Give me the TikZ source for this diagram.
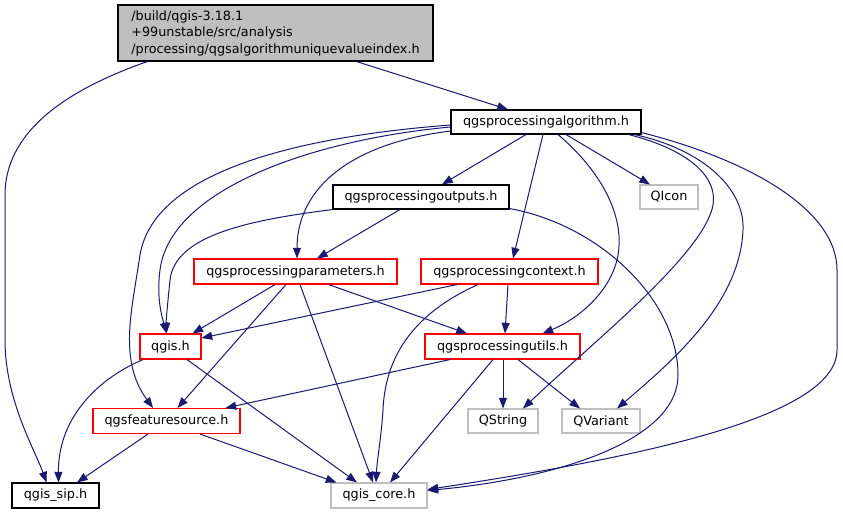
\documentclass[tikz,border=0pt]{standalone}
\usepackage{fontspec}
\setmainfont{DejaVu Sans}
\usetikzlibrary{arrows.meta,calc}
\definecolor{edgec}{HTML}{191970}
\definecolor{grayc}{HTML}{BFBFBF}
\definecolor{redc}{HTML}{FF0000}
\begin{document}
\begin{tikzpicture}[x=0.75pt,y=-0.75pt,
  box/.style={draw, line width=0.8pt, inner sep=0pt, minimum height=18.75pt,
    font=\fontsize{9.6}{12.4}\selectfont},
  bw/.style={minimum width=#1*0.75pt},
  blackbox/.style={box, draw=black},
  redbox/.style={box, draw=redc},
  graybox/.style={box, draw=grayc},
  e/.style={draw=edgec, line width=0.75pt, -{Triangle[length=8pt,width=6pt]}, fill=none},
]
\useasboundingbox (0,0) rectangle (843,515);

\node[box, draw=black, fill=grayc, bw=315, minimum height=42pt, align=left] (top) at (275.5,33)
  {/build/qgis-3.18.1\\+99unstable/src/analysis\\/processing/qgsalgorithmuniquevalueindex.h};
\node[blackbox, bw=190, minimum height=18pt] (alg) at (546,122) {qgsprocessingalgorithm.h};
\node[blackbox, bw=176, minimum height=18pt] (out) at (421,197) {qgsprocessingoutputs.h};
\node[graybox, bw=58, minimum height=18pt] (qicon) at (669,197) {QIcon};
\node[redbox, bw=203] (par) at (295.5,271.5) {qgsprocessingparameters.h};
\node[redbox, bw=177] (ctx) at (509.5,271.5) {qgsprocessingcontext.h};
\node[redbox, bw=61] (qgis) at (170.5,346.5) {qgis.h};
\node[redbox, bw=155] (utl) at (502.5,346.5) {qgsprocessingutils.h};
\node[graybox, bw=70, minimum height=18pt] (qstr) at (503,421) {QString};
\node[graybox, bw=78, minimum height=18pt] (qvar) at (601,421) {QVariant};
\node[redbox, bw=147] (feat) at (166.5,421) {qgsfeaturesource.h};
\node[blackbox, bw=87] (sip) at (55.5,495.5) {qgis\_sip.h};
\node[graybox, bw=96] (core) at (379,495.5) {qgis\_core.h};

% top
\draw[e] ($(top.south)+(-128,0)$) .. controls (60,92) and (5,135) .. (5,195) -- (5,340)
  .. controls (5,400) and (35,450) .. ($(sip.north)+(-9,0)$);
\draw[e] ($(top.south)+(81,0)$) -- ($(alg.north)+(-38,0)$);
% algorithm
\draw[e] ($(alg.south)+(-20,0)$) -- ($(out.north)+(21,0)$);
\draw[e] ($(alg.south)+(20,0)$) -- ($(qicon.north)+(-19,0)$);
\draw[e] ($(alg.south)+(-3,0)$) -- ($(ctx.north)+(3.5,0)$);
\draw[e] ($(alg.south)+(12,0)$) .. controls (600,170) and (625,215) .. (618,255)
  .. controls (612,290) and (580,318) .. ($(utl.north)+(40,0)$);
\draw[e] ($(alg.south east)+(-13,0)$) .. controls (690,150) and (725,180) .. (710,215)
  .. controls (690,265) and (590,345) .. ($(qstr.north)+(20,0)$);
\draw[e] ($(alg.south east)+(-7,0)$) .. controls (705,150) and (745,190) .. (743,230)
  .. controls (740,300) and (680,355) .. ($(qvar.north)+(16,0)$);
\draw[e] ($(alg.south east)+(0,-2)$) .. controls (750,160) and (837,210) .. (837,270) -- (837,350)
  .. controls (837,420) and (620,460) .. ($(core.east)+(0,-6)$);
\draw[e] ($(alg.west)+(0,9)$) .. controls (340,145) and (297,195) .. ($(par.north)+(1.5,0)$);
\draw[e] ($(alg.west)+(0,5)$) .. controls (310,140) and (170,190) .. (160,270)
  .. controls (156,300) and (163,320) .. ($(qgis.north)+(-4,0)$);
\draw[e] ($(alg.west)+(0,3)$) .. controls (320,135) and (155,165) .. (140,255)
  .. controls (132,310) and (118,360) .. ($(feat.north)+(-13.5,0)$);
% outputs
\draw[e] ($(out.south)+(-21,0)$) -- ($(par.north)+(21.5,0)$);
\draw[e] (out.south west) .. controls (250,220) and (175,235) .. (170,280)
  .. controls (168,300) and (166,320) .. ($(qgis.north)+(-4,0)$);
\draw[e] ($(out.south east)+(0,-1)$) .. controls (600,225) and (678,300) .. (678,375)
  .. controls (678,440) and (560,478) .. ($(core.east)+(0,-5)$);
% parameters
\draw[e] ($(par.south)+(-20.5,0)$) -- ($(qgis.north east)+(-9,0)$);
\draw[e] ($(par.south)+(-9.5,0)$) -- ($(feat.north)+(11,0)$);
\draw[e] ($(par.south)+(4.5,0)$) -- ($(core.north)+(-6,0)$);
\draw[e] ($(par.south)+(33,0)$) -- ($(utl.north)+(-35.5,0)$);
% context
\draw[e] ($(ctx.south)+(-52.5,0)$) -- ($(qgis.east)+(0,-8.5)$);
\draw[e] ($(ctx.south)+(-31.5,0)$) .. controls (410,315) and (385,360) .. (383,410)
  .. controls (381,440) and (377,460) .. ($(core.north)+(-3,0)$);
\draw[e] ($(ctx.south)+(-1.5,0)$) -- ($(utl.north)+(2.5,0)$);
% utils
\draw[e] ($(utl.south)+(-52.5,0)$) -- ($(feat.north east)+(-15,0)$);
\draw[e] ($(utl.south)+(0.5,0)$) -- (qstr.north);
\draw[e] ($(utl.south)+(15.5,0)$) -- ($(qvar.north)+(-21,0)$);
\draw[e] ($(utl.south)+(-9.5,0)$) -- ($(core.north)+(11,0)$);
% qgis.h
\draw[e] ($(qgis.south)+(-27.5,0)$) .. controls (95,380) and (58,420) .. ($(sip.north)+(3,0)$);
\draw[e] ($(qgis.south)+(16.5,0)$) -- ($(core.north)+(-22,0)$);
% featuresource
\draw[e] ($(feat.south)+(-18.5,0)$) -- ($(sip.north)+(21.5,0)$);
\draw[e] ($(feat.south)+(33.5,0)$) -- ($(core.north west)+(6,0)$);
\end{tikzpicture}
\end{document}
